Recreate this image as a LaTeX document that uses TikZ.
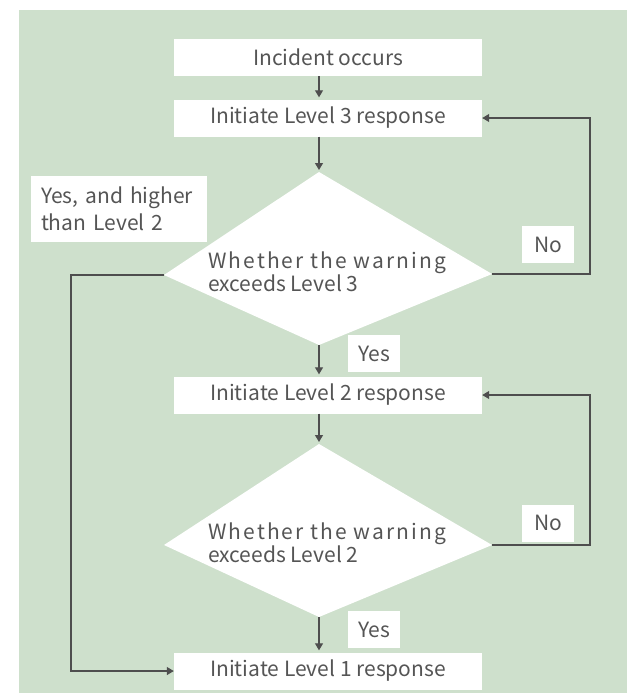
\documentclass[tikz,border=0pt]{standalone}
\usepackage{fontspec}
\setmainfont{Noto Sans CJK SC}
\usetikzlibrary{arrows.meta, positioning}

\definecolor{panelgreen}{RGB}{206,224,204}
\definecolor{inkgray}{RGB}{78,78,78}
\definecolor{textgray}{RGB}{85,85,85}

\begin{document}
\begin{tikzpicture}[
    x=1pt, y=-1pt, % pixel-like units, y pointing down
    >={Triangle[length=7pt, width=8pt]}, % Default arrow tip
    flow/.style={->, draw=inkgray, line width=1.2pt}, % Style for connectors
    stepbox/.style={fill=white, text=textgray, minimum width=308pt, minimum height=37pt, inner sep=0pt, font=\fontsize{21}{24}\selectfont}, % Style for action boxes
    tagbox/.style={fill=white, text=textgray, minimum width=52pt, minimum height=37pt, inner sep=0pt, font=\fontsize{21}{24}\selectfont}, % Style for Yes/No labels
    decision/.style={fill=white}, % Style for the diamonds
    asktext/.style={text=textgray, align=left, inner sep=0pt, anchor=west, font=\fontsize{21}{20}\selectfont} % Style for the diamond texts
]

    % Canvas
    \useasboundingbox (0,0) rectangle (627,693);
    \fill[panelgreen] (19,10) rectangle (627,693);

    % Action boxes
    \node[stepbox] (incident) at (328,57.5) {Incident occurs};
    \node[stepbox] (level3) at (328,118) {Initiate Level 3 response};
    \node[stepbox] (level2) at (328,395) {Initiate Level 2 response};
    \node[stepbox] (level1) at (328,671) {Initiate Level 1 response};

    % Corners of the first diamond
    \coordinate (d3n) at (319,172);
    \coordinate (d3e) at (492,274);
    \coordinate (d3s) at (319,345);
    \coordinate (d3w) at (164,275);
    \fill[decision] (d3n) -- (d3e) -- (d3s) -- (d3w) -- cycle;
    \node[asktext] (ask3) at (208,272) {{\addfontfeature{LetterSpace=10}Whether the warning}\\exceeds Level 3};

    % Corners of the second diamond
    \coordinate (d2n) at (319,444);
    \coordinate (d2e) at (492,545);
    \coordinate (d2s) at (319,617);
    \coordinate (d2w) at (164,545);
    \fill[decision] (d2n) -- (d2e) -- (d2s) -- (d2w) -- cycle;
    \node[asktext] (ask2) at (208,543) {{\addfontfeature{LetterSpace=10}Whether the warning}\\exceeds Level 2};

    % Bends of the loops
    \coordinate (loop3) at (590,118);
    \coordinate (loop2) at (590,395);
    \coordinate (skip)  at (71,275);

    % Connectors
    \draw[flow, shorten >=2pt] (incident.south -| d3n) -- (level3.north -| d3n);
    \draw[flow, shorten >=2pt] (level3.south -| d3n) -- (d3n);
    \draw[flow, shorten >=2pt] (d3s) -- (level2.north -| d3s);
    \draw[flow, shorten >=2pt] (level2.south -| d2n) -- (d2n);
    \draw[flow, shorten >=2pt] (d2s) -- (level1.north -| d2s);
    \draw[flow] (d3e) -| (loop3) -- (level3.east);
    \draw[flow] (d2e) -| (loop2) -- (level2.east);
    \draw[flow] (d3w) -- (skip) |- (level1.west);

    % Labels on the branches
    \node[tagbox] (no3)  at (548,244.5) {No};
    \node[tagbox] (yes3) at (374,353.5) {Yes};
    \node[tagbox] (no2)  at (548,523) {No};
    \node[tagbox] (yes2) at (374,629.5) {Yes};
    \node[tagbox, minimum width=176pt, minimum height=66pt, text width=156pt, align=left, font=\fontsize{21}{26.5}\selectfont] (higher) at (119,209) {Yes, and higher\\than Level 2};

\end{tikzpicture}
\end{document}
